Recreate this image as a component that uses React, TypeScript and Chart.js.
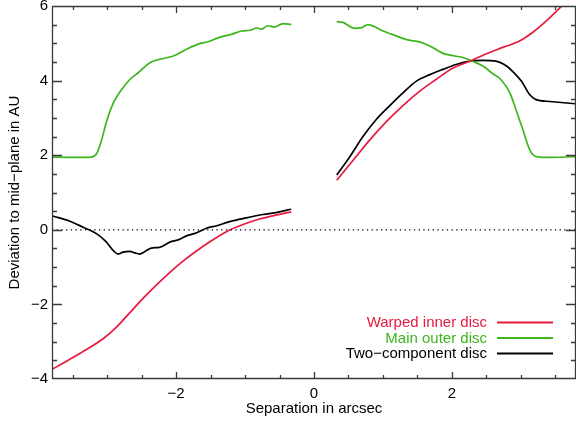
import React, { useEffect, useRef } from "react";
import { Chart, registerables } from "chart.js";

Chart.register(...registerables);

// ---------- data ----------
const warpedLeftX = [-3.79, -3.54, -3.3, -3.06, -2.86, -2.67, -2.48, -2.28, -2.09, -1.9, -1.7, -1.51, -1.27, -1.03, -0.79, -0.54, -0.33];
const warpedLeftY = [-3.73, -3.47, -3.21, -2.92, -2.6, -2.22, -1.84, -1.47, -1.14, -0.84, -0.56, -0.32, -0.05, 0.14, 0.29, 0.4, 0.48];
const warpedRightX = [0.33, 0.57, 0.81, 1.05, 1.29, 1.53, 1.77, 2.01, 2.26, 2.5, 2.74, 2.98, 3.17, 3.37, 3.61, 3.8];
const warpedRightY = [1.33, 1.87, 2.41, 2.9, 3.33, 3.71, 4.03, 4.33, 4.52, 4.72, 4.89, 5.06, 5.29, 5.6, 6.03, 6.38];

const mainLeftX = [-3.79, -3.5, -3.23, -3.15, -3.08, -3.01, -2.91, -2.79, -2.67, -2.55, -2.38, -2.24, -2.04, -1.85, -1.66, -1.54, -1.37, -1.2, -1.05, -0.93, -0.83, -0.76, -0.67, -0.57, -0.45, -0.33];
const mainLeftY = [1.95, 1.94, 1.95, 2.05, 2.41, 2.9, 3.4, 3.76, 4.03, 4.21, 4.48, 4.57, 4.66, 4.84, 4.99, 5.04, 5.16, 5.24, 5.33, 5.35, 5.41, 5.38, 5.47, 5.44, 5.53, 5.5];
const mainRightX = [0.33, 0.42, 0.59, 0.69, 0.78, 1.0, 1.19, 1.36, 1.53, 1.68, 1.87, 2.04, 2.16, 2.3, 2.45, 2.59, 2.72, 2.84, 2.93, 3.03, 3.13, 3.2, 3.37, 3.79];
const mainRightY = [5.58, 5.56, 5.4, 5.42, 5.5, 5.33, 5.2, 5.09, 5.04, 4.93, 4.73, 4.66, 4.62, 4.52, 4.39, 4.19, 4.01, 3.67, 3.22, 2.68, 2.14, 1.98, 1.94, 1.96];

const twoLeftX = [-3.79, -3.54, -3.35, -3.15, -3.01, -2.91, -2.84, -2.77, -2.67, -2.6, -2.53, -2.45, -2.36, -2.24, -2.09, -1.97, -1.83, -1.7, -1.56, -1.41, -1.22, -0.98, -0.74, -0.5, -0.33];
const twoLeftY = [0.37, 0.23, 0.07, -0.11, -0.33, -0.56, -0.65, -0.6, -0.58, -0.62, -0.65, -0.58, -0.49, -0.47, -0.33, -0.27, -0.15, -0.08, 0.04, 0.11, 0.22, 0.32, 0.41, 0.48, 0.55];
const twoRightX = [0.33, 0.52, 0.71, 0.9, 1.1, 1.29, 1.48, 1.68, 1.87, 2.06, 2.26, 2.45, 2.64, 2.76, 2.88, 3.01, 3.13, 3.22, 3.42, 3.79];
const twoRightY = [1.47, 1.96, 2.5, 2.95, 3.33, 3.67, 3.98, 4.16, 4.3, 4.43, 4.52, 4.54, 4.52, 4.43, 4.25, 3.98, 3.62, 3.49, 3.44, 3.38];

const zeroLineX = [-3.8, 3.8];
const zeroLineY = [0, 0];

const seriesLabels = ["Warped inner disc", "Main outer disc", "Two\u2212component disc"];
const seriesColors = ["#e8193f", "#3db51d", "#000000"];

const xMin = -3.8;
const xMax = 3.8;
const yMin = -4;
const yMax = 6;
const xTickValues = [-2, 0, 2];
const xTickLabels = ["\u22122", "0", "2"];
const xMinorValues = [-3.5, -3, -2.5, -2, -1.5, -1, -0.5, 0, 0.5, 1, 1.5, 2, 2.5, 3, 3.5];
const yTickValues = [-4, -2, 0, 2, 4, 6];
const yTickLabels = ["\u22124", "\u22122", "0", "2", "4", "6"];
const yMinorValues = [-3.5, -3, -2.5, -2, -1.5, -1, -0.5, 0, 0.5, 1, 1.5, 2, 2.5, 3, 3.5, 4, 4.5, 5, 5.5];

const xTitle = "Separation in arcsec";
const yTitle = "Deviation to mid\u2212plane in AU";

const FONT = "'Liberation Sans', Arial, Helvetica, sans-serif";

function joinSegments(lx: number[], ly: number[], rx: number[], ry: number[]) {
  const pts: { x: number; y: number | null }[] = [];
  lx.forEach((x, i) => pts.push({ x, y: ly[i] }));
  pts.push({ x: (lx[lx.length - 1] + rx[0]) / 2, y: null });
  rx.forEach((x, i) => pts.push({ x, y: ry[i] }));
  return pts;
}

const framePlugin = {
  id: "idlFrame",
  afterDatasetsDraw(chart: any) {
    const { ctx, chartArea: a, scales } = chart;
    const xs = scales.x;
    const ys = scales.y;
    ctx.save();
    ctx.strokeStyle = "#3a3a3a";
    ctx.lineWidth = 1.3;
    ctx.beginPath();
    ctx.rect(a.left + 0.5, a.top + 0.5, a.right - a.left - 1, a.bottom - a.top - 1);
    ctx.stroke();
    ctx.beginPath();
    xMinorValues.forEach((v) => {
      const p = Math.round(xs.getPixelForValue(v)) + 0.5;
      const len = xTickValues.includes(v) ? 7 : 4;
      ctx.moveTo(p, a.bottom);
      ctx.lineTo(p, a.bottom - len);
      ctx.moveTo(p, a.top);
      ctx.lineTo(p, a.top + len);
    });
    yMinorValues.forEach((v) => {
      const p = Math.round(ys.getPixelForValue(v)) + 0.5;
      const len = yTickValues.includes(v) ? 10 : 5;
      ctx.moveTo(a.left, p);
      ctx.lineTo(a.left + len, p);
      ctx.moveTo(a.right, p);
      ctx.lineTo(a.right - len, p);
    });
    ctx.stroke();

    // legend
    const textRight = 487;
    const lineStart = 497;
    const lineEnd = 553;
    const rowY = [322.5, 338, 353.5];
    ctx.font = `15px ${FONT}`;
    ctx.textAlign = "right";
    ctx.textBaseline = "alphabetic";
    seriesLabels.forEach((label, i) => {
      ctx.fillStyle = seriesColors[i];
      ctx.fillText(label, textRight, rowY[i] + 4.8);
      ctx.strokeStyle = seriesColors[i];
      ctx.lineWidth = 1.8;
      ctx.beginPath();
      ctx.moveTo(lineStart, rowY[i]);
      ctx.lineTo(lineEnd, rowY[i]);
      ctx.stroke();
    });
    ctx.restore();
  },
};

export default function App() {
  const ref = useRef<HTMLCanvasElement | null>(null);

  useEffect(() => {
    document.body.style.margin = "0";
    const canvas = ref.current;
    if (!canvas) return;
    const lineBase = {
      fill: false,
      pointRadius: 0,
      borderWidth: 1.7,
      cubicInterpolationMode: "monotone" as const,
      spanGaps: false,
    };
    const chart = new Chart(canvas, {
      type: "line",
      data: {
        datasets: [
          {
            ...lineBase,
            label: "zero",
            data: zeroLineX.map((x, i) => ({ x, y: zeroLineY[i] })),
            borderColor: "#000",
            borderWidth: 1.3,
            borderDash: [1.3, 3.4],
          },
          {
            ...lineBase,
            label: seriesLabels[0],
            data: joinSegments(warpedLeftX, warpedLeftY, warpedRightX, warpedRightY),
            borderColor: seriesColors[0],
          },
          {
            ...lineBase,
            label: seriesLabels[1],
            data: joinSegments(mainLeftX, mainLeftY, mainRightX, mainRightY),
            borderColor: seriesColors[1],
          },
          {
            ...lineBase,
            label: seriesLabels[2],
            data: joinSegments(twoLeftX, twoLeftY, twoRightX, twoRightY),
            borderColor: seriesColors[2],
          },
        ],
      },
      options: {
        animation: false,
        responsive: false,
        maintainAspectRatio: false,
        layout: { padding: { top: 6, right: 0, bottom: 0, left: 0 } },
        plugins: {
          legend: { display: false },
          tooltip: { enabled: false },
        },
        scales: {
          x: {
            type: "linear",
            min: xMin,
            max: xMax,
            grid: { display: false, drawTicks: false },
            border: { display: false },
            afterBuildTicks: (s: any) => {
              s.ticks = xTickValues.map((value) => ({ value }));
            },
            afterFit: (s: any) => {
              s.height = 42;
              s.paddingLeft = 0;
              s.paddingRight = 0;
            },
            ticks: {
              color: "#000",
              padding: 6,
              maxRotation: 0,
              autoSkip: false,
              font: { family: FONT, size: 15 },
              callback: (v: any) => {
                const i = xTickValues.indexOf(Number(v));
                return i >= 0 ? xTickLabels[i] : "";
              },
            },
            title: {
              display: true,
              text: xTitle,
              color: "#000",
              font: { family: FONT, size: 15 },
              padding: { top: 0, bottom: 3 },
            },
          },
          y: {
            type: "linear",
            min: yMin,
            max: yMax,
            grid: { display: false, drawTicks: false },
            border: { display: false },
            afterBuildTicks: (s: any) => {
              s.ticks = yTickValues.map((value) => ({ value }));
            },
            afterFit: (s: any) => {
              s.width = 52;
              s.paddingTop = 0;
              s.paddingBottom = 0;
            },
            ticks: {
              color: "#000",
              padding: 4,
              autoSkip: false,
              font: { family: FONT, size: 15 },
              callback: (v: any) => {
                const i = yTickValues.indexOf(Number(v));
                return i >= 0 ? yTickLabels[i] : "";
              },
            },
            title: {
              display: true,
              text: yTitle,
              color: "#000",
              font: { family: FONT, size: 15 },
              padding: { top: 6, bottom: 0 },
            },
          },
        },
      },
      plugins: [framePlugin],
    });
    return () => chart.destroy();
  }, []);

  return (
    <div style={{ width: 576, height: 421 }}>
      <canvas ref={ref} width={576} height={421} style={{ display: "block" }} />
    </div>
  );
}
